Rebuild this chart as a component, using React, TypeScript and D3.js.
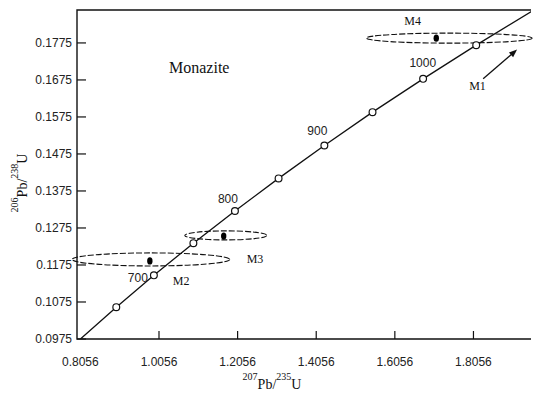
import React from "react";
import * as d3 from "d3";

// concordia, 600 - 1100 Ma every 50 Ma
const ages = [600, 650, 700, 750, 800, 850, 900, 950, 1000, 1050, 1100];
const concordiaX = [0.8057, 0.8969, 0.9926, 1.0931, 1.1988, 1.3098, 1.4263, 1.5488, 1.6775, 1.8126, 1.9546];
const concordiaY = [0.0975, 0.1061, 0.1147, 0.1234, 0.1321, 0.1409, 0.1498, 0.1588, 0.1678, 0.1769, 0.1861];
const markedAges = [650, 700, 750, 800, 850, 900, 950, 1000, 1050];
const labelledAges = [700, 800, 900, 1000];

const xTicks = [0.8056, 1.0056, 1.2056, 1.4056, 1.6056, 1.8056];
const yTicks = [0.0975, 0.1075, 0.1175, 0.1275, 0.1375, 0.1475, 0.1575, 0.1675, 0.1775];

// samples: analysis point + error ellipse
const samples = ["M2", "M3", "M4"];
const sampleX = [0.9823, 1.1702, 1.711];
const sampleY = [0.1186, 0.1253, 0.1788];
const ellipseX = [0.9849, 1.1753, 1.744];
const ellipseY = [0.119, 0.1255, 0.1788];
const ellipseRx = [0.2006, 0.1041, 0.2107];
const ellipseRy = [0.00176, 0.00122, 0.00135];

// sample labels (data coords)
const labelText = ["M2", "M3", "M4", "M1"];
const labelX = [1.0407, 1.2286, 1.6297, 1.7947];
const labelY = [0.1121, 0.118, 0.1824, 0.1648];

const W = 533;
const H = 396;
const margin = { top: 10, right: 1, bottom: 57, left: 77 };

const sans = "'Liberation Sans', Arial, sans-serif";
const serif = "'Liberation Serif', 'Times New Roman', serif";

export default function App() {
  const x = d3.scaleLinear().domain([0.797, 1.952]).range([margin.left, W - margin.right - 1]);
  const y = d3.scaleLinear().domain([0.0975, 0.1864]).range([H - margin.bottom, margin.top]);

  const line = d3
    .line<number>()
    .x((_, i) => x(concordiaX[i]))
    .y((_, i) => y(concordiaY[i]));

  const x0 = margin.left;
  const x1 = W - margin.right - 1;
  const yb = H - margin.bottom;
  const yt = margin.top;

  const offsets: Record<number, [number, number]> = {
    700: [-6, 7],
    800: [3, -8],
    900: [3, -10],
    1000: [13, -12],
  };

  // arrow pointing at M1 ellipse
  const ax1 = x(1.8303), ay1 = y(0.1678), ax2 = x(1.9166), ay2 = y(0.1757);
  const ang = Math.atan2(ay2 - ay1, ax2 - ax1);
  const hl = 8, hw = 3.2;
  const head = [
    [ax2, ay2],
    [ax2 - hl * Math.cos(ang) + hw * Math.sin(ang), ay2 - hl * Math.sin(ang) - hw * Math.cos(ang)],
    [ax2 - hl * Math.cos(ang) - hw * Math.sin(ang), ay2 - hl * Math.sin(ang) + hw * Math.cos(ang)],
  ]
    .map((p) => p.join(","))
    .join(" ");

  return (
    <svg width={W} height={H} style={{ position: "absolute", left: 0, top: 0, background: "#fff" }}>
      <defs>
        <clipPath id="plot">
          <rect x={x0} y={yt} width={x1 - x0} height={yb - yt} />
        </clipPath>
      </defs>

      {/* frame: left, bottom, top */}
      <path d={`M${x1},${yt}H${x0}V${yb}H${x1}`} fill="none" stroke="#111" strokeWidth={1.4} />

      {yTicks.map((t) => (
        <g key={t}>
          <line x1={x0} x2={x0 + 9} y1={y(t)} y2={y(t)} stroke="#111" strokeWidth={1.2} />
          <text x={x0 - 5} y={y(t)} dy="0.35em" textAnchor="end" fontFamily={sans} fontSize={12} fill="#222">
            {t.toFixed(4)}
          </text>
        </g>
      ))}
      {xTicks.map((t) => (
        <g key={t}>
          {t > 0.9 && <line x1={x(t)} x2={x(t)} y1={yb} y2={yb - 8} stroke="#111" strokeWidth={1.2} />}
          <text x={x(t)} y={yb + 27} textAnchor="middle" fontFamily={sans} fontSize={12} fill="#222">
            {t.toFixed(4)}
          </text>
        </g>
      ))}

      {/* axis titles */}
      <text x={272} y={389} textAnchor="middle" fontFamily={serif} fill="#111">
        <tspan fontSize={10} dy={-9}>207</tspan>
        <tspan fontSize={14} dy={9}>Pb/</tspan>
        <tspan fontSize={10} dy={-9}>235</tspan>
        <tspan fontSize={14} dy={9}>U</tspan>
      </text>
      <text transform="translate(27,183) rotate(-90)" textAnchor="middle" fontFamily={serif} fill="#111">
        <tspan fontSize={10} dy={-9}>206</tspan>
        <tspan fontSize={14} dy={9}>Pb/</tspan>
        <tspan fontSize={10} dy={-9}>238</tspan>
        <tspan fontSize={14} dy={9}>U</tspan>
      </text>

      {/* error ellipses */}
      {samples.map((s, i) => (
        <ellipse
          key={s}
          cx={x(ellipseX[i])}
          cy={y(ellipseY[i])}
          rx={x(ellipseX[i] + ellipseRx[i]) - x(ellipseX[i])}
          ry={y(ellipseY[i]) - y(ellipseY[i] + ellipseRy[i])}
          fill="none"
          stroke="#111"
          strokeWidth={1.1}
          strokeDasharray="6 2"
        />
      ))}

      {/* concordia */}
      <path d={line(ages) ?? ""} fill="none" stroke="#111" strokeWidth={1.3} clipPath="url(#plot)" />
      {markedAges.map((a) => {
        const i = ages.indexOf(a);
        return (
          <circle key={a} cx={x(concordiaX[i])} cy={y(concordiaY[i])} r={3.4} fill="#fff" stroke="#111" strokeWidth={1.2} />
        );
      })}
      {labelledAges.map((a) => {
        const i = ages.indexOf(a);
        const [dx, dy] = offsets[a];
        return (
          <text key={a} x={x(concordiaX[i]) + dx} y={y(concordiaY[i]) + dy} textAnchor="end" fontFamily={sans} fontSize={12} fill="#222">
            {a}
          </text>
        );
      })}

      {/* analyses */}
      {samples.map((s, i) => (
        <ellipse key={s} cx={x(sampleX[i])} cy={y(sampleY[i])} rx={2.7} ry={3.6} fill="#000" />
      ))}

      {labelText.map((t, i) => (
        <text key={t} x={x(labelX[i])} y={y(labelY[i])} fontFamily={serif} fontSize={12} fill="#111">
          {t}
        </text>
      ))}

      <line x1={ax1} y1={ay1} x2={ax2 - 6 * Math.cos(ang)} y2={ay2 - 6 * Math.sin(ang)} stroke="#111" strokeWidth={1.3} />
      <polygon points={head} fill="#111" />

      <text x={169} y={73} fontFamily={serif} fontSize={16} fill="#111">
        Monazite
      </text>
    </svg>
  );
}
